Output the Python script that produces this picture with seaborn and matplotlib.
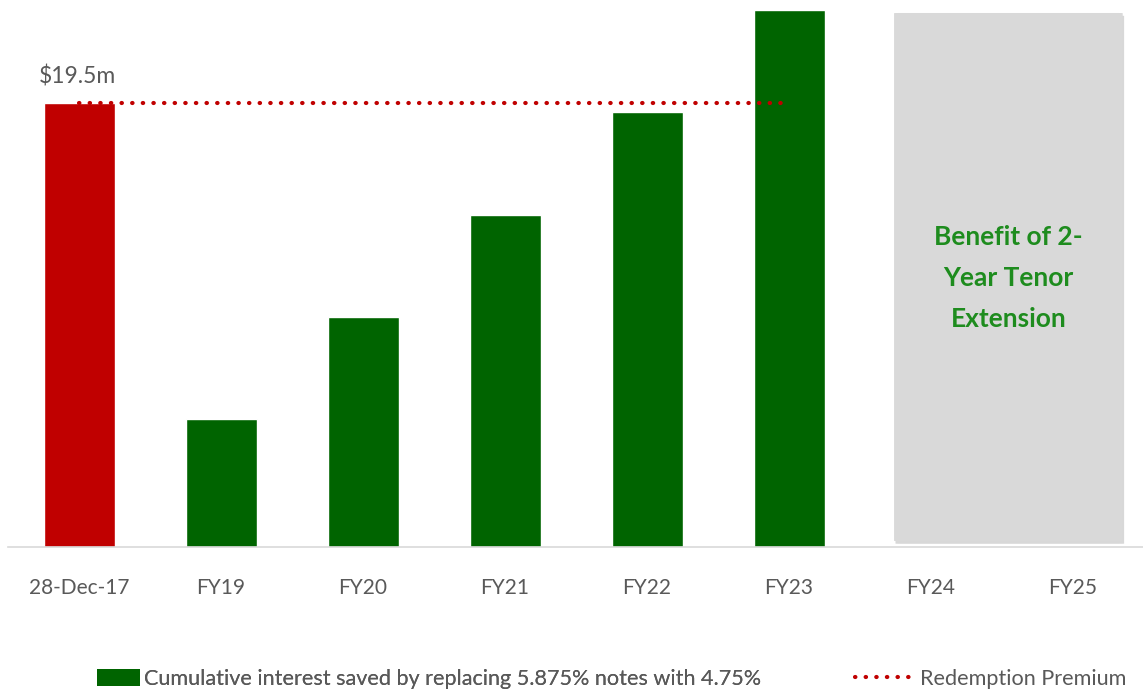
import matplotlib
matplotlib.use("Agg")
import matplotlib.pyplot as plt
from matplotlib.patches import FancyBboxPatch, Patch
from matplotlib.lines import Line2D
import numpy as np
import pandas as pd
import seaborn as sns

# Categories and values ($m)
categories = ["28-Dec-17", "FY19", "FY20", "FY21", "FY22", "FY23", "FY24", "FY25"]
values = [19.5, 5.6, 10.1, 14.6, 19.1, 23.6, np.nan, np.nan]
series = ["Redemption", "Saved", "Saved", "Saved", "Saved", "Saved", "Saved", "Saved"]
redemption_premium = 19.5
premium_label = "$19.5m"
benefit_text = "Benefit of 2-\nYear Tenor\nExtension"
legend_labels = ["Cumulative interest saved by replacing 5.875% notes with 4.75%",
                 "Redemption Premium"]

RED = "#C00000"
GREEN = "#006400"
GREY_BOX = "#D9D9D9"
TEXT = "#595959"
DOTS = (0, (0.1, 2.45))

sns.set_theme(style="white")
plt.rcParams["font.family"] = ["Lato", "DejaVu Sans"]

df = pd.DataFrame({"category": categories, "value": values, "series": series})

fig = plt.figure(figsize=(11.43, 6.94), dpi=100)
ax = fig.add_axes([8 / 1143, 1 - 547 / 694, 1136 / 1143, 547 / 694])

sns.barplot(data=df, x="category", y="value", hue="series",
            palette={"Redemption": RED, "Saved": GREEN},
            width=0.5, dodge=False, legend=False, ax=ax, saturation=1)

ax.set_xlim(-0.5, 7.5)
ax.set_ylim(0, 24.02)

# Shaded panel for the tenor extension years
box_x0, box_x1 = 5.74, 7.35
box_y0, box_y1 = 0.26, 23.45
shadow = FancyBboxPatch((box_x0 + 0.01, box_y0 - 0.12), box_x1 - box_x0, box_y1 - box_y0,
                        boxstyle="round,pad=0,rounding_size=0.04",
                        mutation_aspect=0.17, facecolor="#BFBFBF", edgecolor="none",
                        alpha=0.6, zorder=1)
box = FancyBboxPatch((box_x0, box_y0), box_x1 - box_x0, box_y1 - box_y0,
                     boxstyle="round,pad=0,rounding_size=0.04",
                     mutation_aspect=0.17, facecolor=GREY_BOX, edgecolor="none", zorder=1.5)
ax.add_patch(shadow)
ax.add_patch(box)
ax.text((box_x0 + box_x1) / 2, 11.8, benefit_text, ha="center", va="center",
        fontsize=19, fontweight="bold", color="#1E8C1E", linespacing=1.84, zorder=3)

# Redemption premium reference line
ax.plot([0, 5], [redemption_premium, redemption_premium], color=RED,
        linestyle=DOTS, linewidth=3.0, dash_capstyle="round", zorder=4)
ax.text(-0.28, redemption_premium + 1.15, premium_label, ha="left", va="center",
        fontsize=16.5, color=TEXT)

# Axes styling
for s in ["top", "right", "left"]:
    ax.spines[s].set_visible(False)
ax.spines["bottom"].set_color("#D9D9D9")
ax.spines["bottom"].set_linewidth(1.2)
ax.set_yticks([])
ax.set_xlabel("")
ax.set_ylabel("")
ax.tick_params(axis="x", length=0, pad=22, labelsize=15, labelcolor=TEXT)

# Legend: two entries placed separately so each handle gets its own width
legend_y = 1 - 679 / 694
leg1 = fig.legend([Patch(facecolor=GREEN, edgecolor="none")], legend_labels[:1],
                  loc="center left", bbox_to_anchor=(97 / 1143, legend_y),
                  frameon=False, fontsize=15.6, labelcolor=TEXT, handlelength=1.98,
                  handleheight=0.8, handletextpad=0.18, borderaxespad=0, borderpad=0)
fig.add_artist(leg1)
fig.legend([Line2D([0], [0], color=RED, linestyle=DOTS, linewidth=3.0,
                   dash_capstyle="round")], legend_labels[1:],
           loc="center left", bbox_to_anchor=(855 / 1143, legend_y),
           frameon=False, fontsize=15.6, labelcolor=TEXT, handlelength=2.6,
           handletextpad=0.4, borderaxespad=0, borderpad=0)

fig.savefig("out.png", dpi=100, facecolor="white")
